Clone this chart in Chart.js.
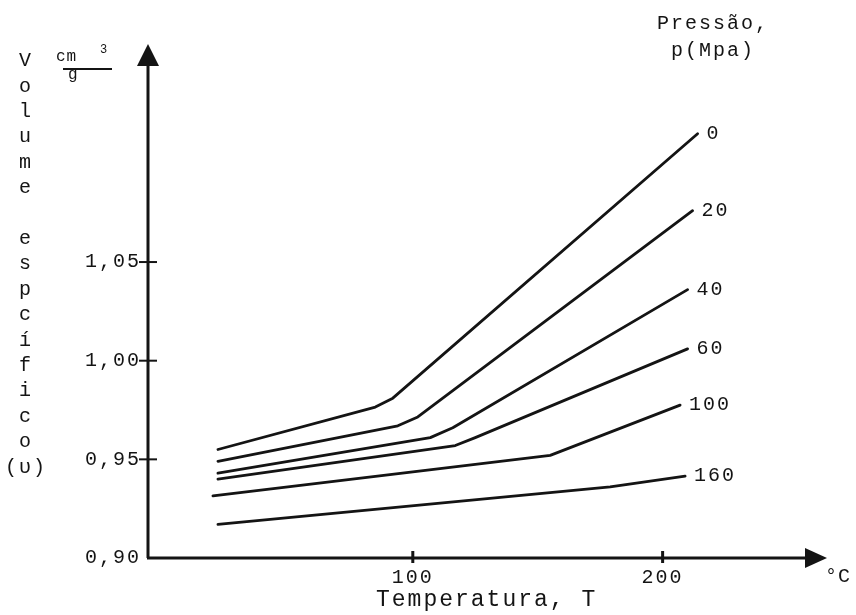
<!DOCTYPE html>
<html>
<head>
<meta charset="utf-8">
<script src="https://cdn.jsdelivr.net/npm/chart.js@4.4.0/dist/chart.umd.min.js"></script>
<style>
    html, body { margin: 0; padding: 0; background: #fff; }
</style>
</head>
<body>
<canvas id="volumeChart" width="856" height="615"></canvas>
<script>
// pressure of each curve, MPa
var pressures = ['0', '20', '40', '60', '100', '160'];

// temperature (C) and specific volume (cm3/g)
var temp0 = [22, 85, 92, 214];
var vol0 = [0.955, 0.9765, 0.981, 1.115];
var temp20 = [22, 94, 102, 212];
var vol20 = [0.949, 0.967, 0.9715, 1.076];
var temp40 = [22, 107, 116, 210];
var vol40 = [0.943, 0.961, 0.966, 1.036];
var temp60 = [22, 117, 125, 210];
var vol60 = [0.940, 0.957, 0.961, 1.006];
var temp100 = [20, 155, 207];
var vol100 = [0.9315, 0.952, 0.9775];
var temp160 = [22, 179, 209];
var vol160 = [0.917, 0.936, 0.9415];

var xTicks = [100, 200];
var xTickLabels = ['100', '200'];
var yTicks = [0.90, 0.95, 1.00, 1.05];
var yTickLabels = ['0,90', '0,95', '1,00', '1,05'];

var temps = [temp0, temp20, temp40, temp60, temp100, temp160];
var vols = [vol0, vol20, vol40, vol60, vol100, vol160];

var ink = '#141414';
var fontFamily = '"Liberation Mono", "DejaVu Sans Mono", monospace';

var datasets = pressures.map(function(p, i) {
    return {
        label: p + ' MPa',
        data: temps[i].map(function(t, j) { return {x: t, y: vols[i][j]}; }),
        borderColor: ink,
        borderWidth: 2.8,
        borderJoinStyle: 'round',
        borderCapStyle: 'round',
        pointRadius: 0,
        fill: false,
        tension: 0
    };
});

function labelFor(list, values) {
    return function(value) {
        var k = values.findIndex(function(v) { return Math.abs(v - value) < 1e-6; });
        return k >= 0 ? list[k] : '';
    };
}

// axes with arrows, crossing tick marks and all loose text of the figure
var figurePlugin = {
    id: 'figure',
    beforeDraw: function(chart) {
        chart.ctx.letterSpacing = '2px';
    },
    afterDraw: function(chart) {
        var ctx = chart.ctx;
        var area = chart.chartArea;
        var xs = chart.scales.x, ys = chart.scales.y;
        ctx.save();
        ctx.strokeStyle = ink;
        ctx.fillStyle = ink;

        // y axis
        ctx.lineWidth = 3;
        ctx.beginPath();
        ctx.moveTo(area.left, area.bottom);
        ctx.lineTo(area.left, area.top + 18);
        ctx.stroke();
        ctx.beginPath();
        ctx.moveTo(area.left, area.top - 1);
        ctx.lineTo(area.left - 11, area.top + 21);
        ctx.lineTo(area.left + 11, area.top + 21);
        ctx.closePath();
        ctx.fill();

        // x axis
        ctx.beginPath();
        ctx.moveTo(area.left - 1, area.bottom);
        ctx.lineTo(area.right - 18, area.bottom);
        ctx.stroke();
        ctx.beginPath();
        ctx.moveTo(area.right + 2, area.bottom);
        ctx.lineTo(area.right - 20, area.bottom - 10);
        ctx.lineTo(area.right - 20, area.bottom + 10);
        ctx.closePath();
        ctx.fill();

        // tick marks
        ctx.lineWidth = 2;
        yTicks.forEach(function(v) {
            if (v <= ys.min) return;
            var py = ys.getPixelForValue(v);
            ctx.beginPath();
            ctx.moveTo(area.left - 9, py);
            ctx.lineTo(area.left + 9, py);
            ctx.stroke();
        });
        ctx.lineWidth = 3;
        xTicks.forEach(function(v) {
            var px = xs.getPixelForValue(v);
            ctx.beginPath();
            ctx.moveTo(px, area.bottom - 7);
            ctx.lineTo(px, area.bottom + 5);
            ctx.stroke();
        });

        // curve labels at the end of each line
        ctx.font = '20px ' + fontFamily;
        ctx.letterSpacing = '2px';
        ctx.textAlign = 'left';
        ctx.textBaseline = 'middle';
        chart.data.datasets.forEach(function(ds, i) {
            var pts = chart.getDatasetMeta(i).data;
            var last = pts[pts.length - 1];
            ctx.fillText(pressures[i], last.x + 9, last.y);
        });

        // legend title
        ctx.textAlign = 'center';
        ctx.textBaseline = 'alphabetic';
        ctx.fillText('Pressão,', 713, 29);
        ctx.fillText('p(Mpa)', 713, 56);

        // vertical y title, one letter per row
        var rows = ['V', 'o', 'l', 'u', 'm', 'e', '', 'e', 's', 'p', 'c', 'í', 'f', 'i', 'c', 'o', '(υ)'];
        ctx.textBaseline = 'middle';
        rows.forEach(function(ch, k) {
            if (ch) ctx.fillText(ch, 26, 61 + k * 25.4);
        });

        // unit cm3/g
        ctx.textAlign = 'left';
        ctx.textBaseline = 'alphabetic';
        ctx.letterSpacing = '1px';
        ctx.font = '16px ' + fontFamily;
        ctx.fillText('cm', 56, 61);
        ctx.fillText('g', 68, 79);
        ctx.font = '12px ' + fontFamily;
        ctx.fillText('3', 100, 53);
        ctx.lineWidth = 2;
        ctx.beginPath();
        ctx.moveTo(63, 69);
        ctx.lineTo(112, 69);
        ctx.stroke();

        // x title and unit
        ctx.letterSpacing = '2px';
        ctx.font = '23px ' + fontFamily;
        ctx.fillText('Temperatura, T', 376, 606);
        ctx.font = '20px ' + fontFamily;
        ctx.letterSpacing = '1px';
        ctx.fillText('°C', 825, 582);
        ctx.restore();
    }
};

var volumeCTX = document.getElementById('volumeChart').getContext('2d');

var volumeChart = new Chart(volumeCTX, {
    type: 'line',
    data: { datasets: datasets },
    options: {
        responsive: false,
        animation: false,
        layout: { padding: { left: 0, top: 45, right: 31, bottom: 0 } },
        plugins: {
            legend: { display: false },
            tooltip: { enabled: false }
        },
        scales: {
            x: {
                type: 'linear',
                min: -6,
                max: 265,
                border: { display: false },
                grid: { display: false, drawTicks: false },
                afterBuildTicks: function(scale) {
                    scale.ticks = xTicks.map(function(v) { return {value: v}; });
                },
                afterFit: function(scale) { scale.height = 57; },
                ticks: {
                    padding: 8,
                    color: ink,
                    font: { family: fontFamily, size: 20 },
                    maxRotation: 0,
                    callback: labelFor(xTickLabels, xTicks)
                }
            },
            y: {
                type: 'linear',
                min: 0.90,
                max: 1.16,
                border: { display: false },
                grid: { display: false, drawTicks: false },
                afterBuildTicks: function(scale) {
                    scale.ticks = yTicks.map(function(v) { return {value: v}; });
                },
                afterFit: function(scale) { scale.width = 148; },
                ticks: {
                    padding: 7,
                    color: ink,
                    font: { family: fontFamily, size: 20 },
                    callback: labelFor(yTickLabels, yTicks)
                }
            }
        }
    },
    plugins: [figurePlugin]
});
</script>
</body>
</html>
